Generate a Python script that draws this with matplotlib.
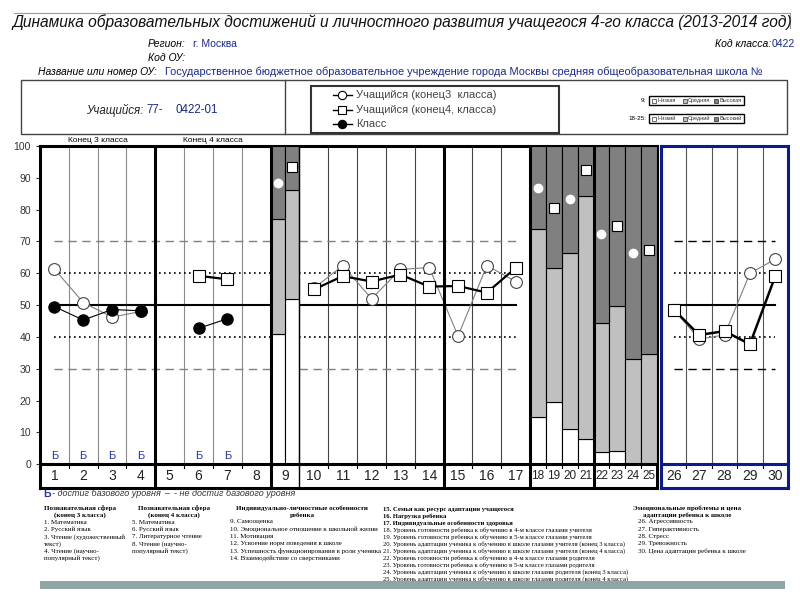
import matplotlib.pyplot as plt
import numpy as np
from matplotlib.patches import Rectangle

plt.rcParams['font.family'] = ['Liberation Sans', 'DejaVu Sans']

nan = np.nan

# scores on columns 1..17 (open circles = end of 3rd grade, squares = end of 4th grade)
student3 = [61.3, 50.8, 46.2, 48.0, nan, nan, nan, nan, nan,
            55.3, 62.4, 52.0, 61.2, 61.8, 40.3, 62.4, 57.4]
student4 = [nan, nan, nan, nan, nan, 59.2, 58.1, nan, nan,
            54.9, 59.1, 57.4, 59.6, 55.8, 56.0, 53.9, 61.7]
# class average, columns 1..8
klass = [49.5, 45.3, 48.6, 48.2, nan, 42.7, 45.7, nan]

# emotional problems block, columns 26..30
emo_cols = [26, 27, 28, 29, 30]
student3_emo = [48.6, 39.3, 40.6, 60.0, 64.4]
student4_emo = [48.6, 40.6, 41.8, 37.7, 59.1]

# stacked level bars: column 9 (3rd / 4th grade) and 18..25
bar_cols = [9, 9, 18, 19, 20, 21, 22, 23, 24, 25]
bar_grade = [3, 4, 3, 4, 3, 4, 3, 4, 3, 4]
low = [40.8, 51.8, 14.9, 19.4, 11.2, 7.8, 3.7, 4.0, 0.0, 0.0]
mid = [36.1, 34.4, 58.9, 42.1, 55.3, 76.6, 40.7, 45.7, 33.2, 34.5]
high = [23.1, 13.8, 26.2, 38.5, 33.5, 15.6, 55.6, 50.3, 66.8, 65.5]
bar_score = [88.3, 93.3, 86.9, 80.5, 83.2, 92.3, 72.2, 74.8, 66.5, 67.3]

# columns where base level was reached
base_reached = [1, 2, 3, 4, 6, 7]

# ---- layout of the main block: columns 18..25 are narrower
widths = np.array([1.0] * 17 + [0.55] * 8)
edges = np.concatenate([[0], np.cumsum(widths)])
def center(c):
    return edges[c - 1] + widths[c - 1] / 2

navy = '#1a2a8c'
blue = '#0b1a8f'

fig = plt.figure(figsize=(8, 6), dpi=100)

bg = fig.add_axes([0, 0, 1, 1])
bg.set_xlim(0, 800)
bg.set_ylim(600, 0)
bg.axis('off')

bottom = 1 - 488 / 600
height = (488 - 146) / 600
ax = fig.add_axes([40 / 800, bottom, (657 - 40) / 800, height])
ax2 = fig.add_axes([661 / 800, bottom, 127 / 800, height])

ax.set_xlim(0, edges[-1])
ax.set_ylim(-7.5, 100)
ax2.set_xlim(0, 5)
ax2.set_ylim(-7.5, 100)

for s in ax.spines.values():
    s.set_linewidth(2.2)
for s in ax2.spines.values():
    s.set_linewidth(2.2)
    s.set_color(blue)

ax.set_xticks([])
ax.set_yticks(range(0, 101, 10))
ax.tick_params(axis='y', labelsize=7.5, length=3, width=0.8, colors='#333')
ax2.set_xticks([])
ax2.set_yticks([])

# column separators
for i in [1, 2, 3, 5, 6, 7]:
    ax.plot([edges[i]] * 2, [0, 100], color='#8a8a8a', lw=0.8, zorder=1)
for i in [10, 11, 12, 13, 15, 16]:
    ax.plot([edges[i]] * 2, [0, 100], color='#444', lw=0.8, zorder=1)
for i in range(1, 25):
    ax.plot([edges[i]] * 2, [0, -1.2], color='black', lw=0.8, zorder=1)
for i in [4, 8, 14, 17, 21]:
    ax.plot([edges[i]] * 2, [-7.5, 100], color='black', lw=2.2, zorder=8)
ax.plot([edges[9]] * 2, [-7.5, 100], color='black', lw=1.0, zorder=8)
ax.axhline(0, color='black', lw=2.2, zorder=8)

for i in range(1, 5):
    ax2.plot([i, i], [0, 100], color='#555', lw=0.8, zorder=1)
    ax2.plot([i, i], [0, -1.2], color='black', lw=0.8, zorder=1)
ax2.axhline(0, color=blue, lw=2.2, zorder=8)

# norm lines
def norms(a, x0, x1, dash_color):
    a.plot([x0, x1], [50, 50], color='black', lw=1.5, zorder=2)
    for v in (40, 60):
        a.plot([x0, x1], [v, v], color='black', lw=1.2, ls=(0, (1, 2)), zorder=2)
    for v in (30, 70):
        a.plot([x0, x1], [v, v], color=dash_color, lw=1.0, ls=(0, (6, 4)), zorder=2)

norms(ax, center(1), edges[8], '#808080')
norms(ax, edges[9], center(17), '#808080')
norms(ax2, 0.5, 4.5, 'black')

# stacked bars
bx, bw = [], []
for c, g in zip(bar_cols, bar_grade):
    if c == 9:
        bx.append(edges[8] + (0.25 if g == 3 else 0.75))
        bw.append(0.5)
    else:
        bx.append(center(c))
        bw.append(widths[c - 1])
low = np.array(low)
mid = np.array(mid)
ax.bar(bx, low, bw, color='white', edgecolor='black', lw=0.8, zorder=3)
ax.bar(bx, mid, bw, bottom=low, color='#c0c0c0', edgecolor='black', lw=0.8, zorder=3)
ax.bar(bx, high, bw, bottom=low + mid, color='#808080', edgecolor='black', lw=0.8, zorder=3)
for x, v, g in zip(bx, bar_score, bar_grade):
    if g == 3:
        ax.plot(x, v, 'o', ms=6, mfc='white', mec='white', zorder=6)
    else:
        ax.plot(x, v, 's', ms=6.5, mfc='white', mec='black', mew=0.8, zorder=6)

# score lines
x17 = [center(c) for c in range(1, 18)]
x8 = [center(c) for c in range(1, 9)]
ax.plot(x17, student3, color='#808080', lw=0.8, marker='o', ms=8.5,
        mfc='white', mec='#444', mew=0.8, zorder=5)
ax.plot(x17, student4, color='black', lw=1.6, marker='s', ms=8,
        mfc='white', mec='black', mew=0.8, zorder=6)
ax.plot(x8, klass, color='black', lw=0.8, marker='o', ms=8,
        mfc='black', mec='black', zorder=7)

xe = np.arange(len(emo_cols)) + 0.5
ax2.plot(xe, student3_emo, color='#808080', lw=0.8, marker='o', ms=8.5,
         mfc='white', mec='#444', mew=0.8, zorder=5)
ax2.plot(xe, student4_emo, color='black', lw=1.8, marker='s', ms=8,
         mfc='white', mec='black', mew=0.8, zorder=6)

for c in base_reached:
    ax.text(center(c), 2.6, 'Б', color='#2233aa', fontsize=8, ha='center', va='center')

for c in range(1, 26):
    ax.text(center(c), -3.75, str(c), fontsize=10 if c < 18 else 8.5,
            ha='center', va='center', color='#222')
for x, c in zip(xe, emo_cols):
    ax2.text(x, -3.75, str(c), fontsize=10, ha='center', va='center', color='#222')

ax.text(2.0, 100.7, 'Конец 3 класса', fontsize=6, ha='center', va='bottom', clip_on=False)
ax.text(6.0, 100.7, 'Конец 4 класса', fontsize=6, ha='center', va='bottom', clip_on=False)

# ---- header
bg.plot([14, 790], [13, 13], color='#999', lw=0.8)
bg.plot([790, 790], [13, 28], color='#999', lw=0.8)
bg.text(12, 22, 'Динамика образовательных достижений и личностного развития '
        'учащегося 4-го класса (2013-2014 год)', fontsize=11.2, style='italic',
        va='center', color='#111')
bg.text(148, 44, 'Регион:', fontsize=7.5, style='italic', va='center')
bg.text(193, 44, 'г. Москва', fontsize=7.5, va='center', color=navy)
bg.text(771, 44, 'Код класса:', fontsize=7.5, style='italic', va='center', ha='right')
bg.text(772, 44, '0422', fontsize=7.5, va='center', color=navy)
bg.text(148, 58, 'Код ОУ:', fontsize=7.5, style='italic', va='center')
bg.text(38, 72, 'Название или номер ОУ:', fontsize=7.5, style='italic', va='center')
bg.text(165, 72, 'Государственное бюджетное образовательное учреждение города Москвы '
        'средняя общеобразовательная школа №', fontsize=7.9, va='center', color=navy)

bg.add_patch(Rectangle((21, 80), 766, 54, fill=False, ec='#444', lw=1.0))
bg.plot([285, 285], [80, 134], color='#444', lw=1.0)
bg.text(86, 110, 'Учащийся:', fontsize=8.3, style='italic', va='center', color='#222')
bg.text(146, 110, '77-', fontsize=8.3, va='center', color=navy)
bg.text(175, 110, '0422-01', fontsize=8.3, va='center', color=navy)

bg.add_patch(Rectangle((311, 86), 248, 47, fill=False, ec='#333', lw=1.5))
legend_rows = [('Учащийся (конец3  класса)', 'o', 'white', 95),
               ('Учащийся (конец4, класса)', 's', 'white', 110),
               ('Класс', 'o', 'black', 124)]
for label, m, fc, y in legend_rows:
    bg.plot([333, 352], [y, y], color='black', lw=1.0)
    bg.plot(342, y, m, ms=6, mfc=fc, mec='black', mew=0.8)
    bg.text(356, y, label, fontsize=8, va='center', color='#444')

level_rows = [('9:', ['Низкая', 'Средняя', 'Высокая'], 100.5),
              ('18-25:', ['Низкий', 'Средний', 'Высокий'], 118.5)]
for lab, names, y in level_rows:
    bg.text(646, y, lab, fontsize=4.5, ha='right', va='center')
    bg.add_patch(Rectangle((649, y - 4.5), 95, 9, fill=False, ec='black', lw=1.0))
    for k, (nm, col) in enumerate(zip(names, ['white', '#c0c0c0', '#808080'])):
        x0 = 652 + k * 31
        bg.add_patch(Rectangle((x0, y - 2), 4, 4, fc=col, ec='black', lw=0.4))
        bg.text(x0 + 5, y, nm, fontsize=4, va='center', color='#333')

# ---- footer
bg.text(43, 494, 'Б', fontsize=7.5, color='#2233aa', va='center', weight='bold')
bg.text(52, 494, '- достиг базового уровня', fontsize=6.5, style='italic', va='center', color='#333')
bg.text(164, 494, '–  - не достиг базового уровня', fontsize=6.5, style='italic', va='center', color='#333')

serif = 'Liberation Serif'
blocks = [
    (44, 80, ['Познавательная сфера', '(конец 3 класса)'],
     ['1. Математика', '2. Русский язык', '3. Чтение (художественный', 'текст)',
      '4. Чтение (научно-', 'популярный текст)']),
    (132, 174, ['Познавательная сфера', '(конец 4 класса)'],
     ['5. Математика', '6. Русский язык', '7. Литературное чтение',
      '8. Чтение (научно-', 'популярный текст)']),
    (230, 302, ['Индивидуально-личностные особенности', 'ребенка'],
     ['9. Самооценка', '10. Эмоциональное отношение к школьной жизни', '11. Мотивация',
      '12. Усвоение норм поведения в школе', '13. Успешность функционирования в роли ученика',
      '14. Взаимодействие со сверстниками']),
    (638, 687, ['Эмоциональные проблемы и цена', 'адаптации ребенка к школе'],
     ['26. Агрессивность', '27. Гиперактивность', '28. Стресс', '29. Тревожность',
      '30. Цена адаптации ребенка к школе']),
]
for x_items, x_head, head, items in blocks:
    for k, h in enumerate(head):
        bg.text(x_head, 508 + k * 7, h, fontsize=5, family=serif, weight='bold',
                ha='center', va='center')
    for k, it in enumerate(items):
        bg.text(x_items, 522 + k * 7.3, it, fontsize=5, family=serif, va='center')

col4 = ['15. Семья как ресурс адаптации учащегося', '16. Нагрузка ребенка',
        '17. Индивидуальные особенности здоровья',
        '18. Уровень готовности ребенка к обучению в 4-м классе глазами учителя',
        '19. Уровень готовности ребенка к обучению в 5-м классе глазами учителя',
        '20. Уровень адаптации ученика к обучению в школе глазами учителя (конец 3 класса)',
        '21. Уровень адаптации ученика к обучению в школе глазами учителя (конец 4 класса)',
        '22. Уровень готовности ребенка к обучению в 4-м классе глазами родителя',
        '23. Уровень готовности ребенка к обучению в 5-м классе глазами родителя',
        '24. Уровень адаптации ученика к обучению в школе глазами родителя (конец 3 класса)',
        '25. Уровень адаптации ученика к обучению в школе глазами родителя (конец 4 класса)']
for k, it in enumerate(col4):
    bg.text(383, 509 + k * 7, it, fontsize=4.8, family=serif, va='center',
            weight='bold' if k < 3 else 'normal')

bg.add_patch(Rectangle((40, 581), 745, 8, fc='#8fa6a4', ec='none', zorder=5))

fig.savefig('out.png', dpi=100)
